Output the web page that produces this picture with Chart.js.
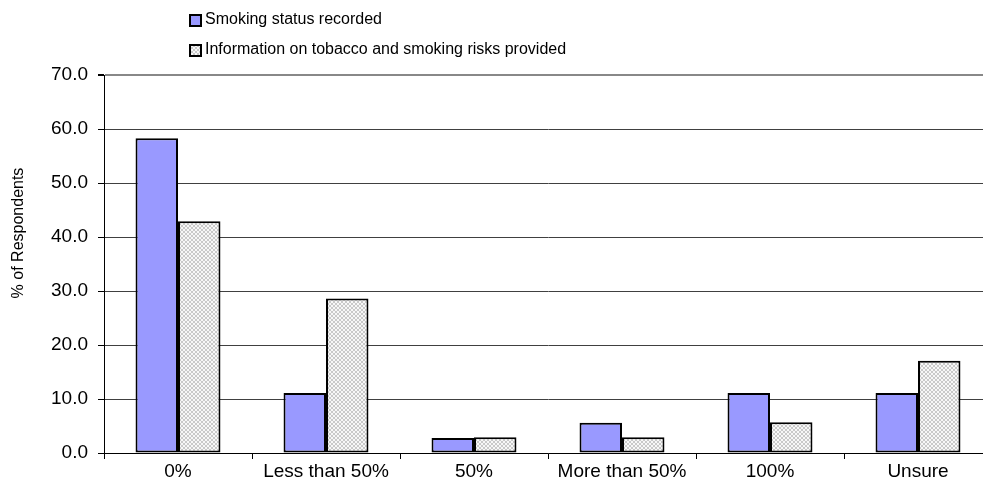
<!DOCTYPE html>
<html>
<head>
<meta charset="utf-8">
<script src="https://cdn.jsdelivr.net/npm/chart.js@4.4.0/dist/chart.umd.min.js"></script>
<style>
  html, body { margin: 0; padding: 0; background: #fff; overflow: hidden; }
  #wrap { width: 1000px; height: 494px; }
</style>
</head>
<body>
<div id="wrap"><canvas id="chart" width="1000" height="494"></canvas></div>
<script>
const categories = ['0%', 'Less than 50%', '50%', 'More than 50%', '100%', 'Unsure'];
const recorded = [58.3, 11.1, 2.8, 5.6, 11.1, 11.1];
const provided = [42.9, 28.6, 2.9, 2.9, 5.7, 17.1];
const seriesNames = ['Smoking status recorded', 'Information on tobacco and smoking risks provided'];
const yTicks = [0, 10, 20, 30, 40, 50, 60, 70];

const FONT = '"Liberation Sans", Arial, sans-serif';

// light crosshatch fill for the second series
function makeHatch() {
  const c = document.createElement('canvas');
  c.width = 4; c.height = 4;
  const g = c.getContext('2d');
  g.fillStyle = '#f7f7f7';
  g.fillRect(0, 0, 4, 4);
  g.fillStyle = '#c9c9c9';
  for (let x = 0; x < 4; x++) {
    for (let y = 0; y < 4; y++) {
      if (x === y || x + y === 3) g.fillRect(x, y, 1, 1);
    }
  }
  return g.createPattern(c, 'repeat');
}
const hatch = makeHatch();

const extras = {
  id: 'extras',
  afterDraw(chart) {
    const ctx = chart.ctx;
    ctx.save();
    // legend
    const fills = ['#9999ff', hatch];
    const rows = [20, 50];
    ctx.font = '16px ' + FONT;
    ctx.textBaseline = 'middle';
    ctx.textAlign = 'left';
    seriesNames.forEach((name, i) => {
      ctx.fillStyle = fills[i];
      ctx.fillRect(190, rows[i] - 5, 11, 11);
      ctx.strokeStyle = '#000';
      ctx.lineWidth = 2;
      ctx.strokeRect(190, rows[i] - 5, 11, 11);
      ctx.fillStyle = '#000';
      ctx.fillText(name, 205, rows[i]);
    });
    // y axis title
    ctx.translate(19, 233);
    ctx.rotate(-Math.PI / 2);
    ctx.textAlign = 'center';
    ctx.font = '16px ' + FONT;
    ctx.fillText('% of Respondents', 0, 0);
    ctx.restore();
  }
};

new Chart(document.getElementById('chart'), {
  type: 'bar',
  data: {
    labels: categories,
    datasets: [
      { label: seriesNames[0], data: recorded, backgroundColor: '#9999ff', borderColor: '#000', borderWidth: 2, borderSkipped: false },
      { label: seriesNames[1], data: provided, backgroundColor: hatch, borderColor: '#000', borderWidth: 2, borderSkipped: false }
    ]
  },
  options: {
    responsive: false,
    animation: false,
    layout: { padding: { top: 75, right: 8, left: 0, bottom: 0 } },
    datasets: { bar: { barPercentage: 1, categoryPercentage: 0.574 } },
    plugins: { legend: { display: false }, tooltip: { enabled: false } },
    scales: {
      x: {
        afterFit: (s) => { s.height = 41; },
        grid: { offset: true, drawOnChartArea: false, tickLength: 6, tickColor: '#000' },
        border: { display: true, color: '#000', width: 1 },
        ticks: { color: '#000', font: { family: FONT, size: 19 }, padding: 1, maxRotation: 0 }
      },
      y: {
        min: 0,
        max: 70,
        afterFit: (s) => { s.width = 104; },
        afterBuildTicks: (s) => { s.ticks = yTicks.map(v => ({ value: v })); },
        grid: {
          color: (c) => c.tick && c.tick.value === 70 ? '#888' : '#404040',
          lineWidth: (c) => c.tick && c.tick.value === 70 ? 2 : 1,
          tickLength: 6,
          tickColor: '#000'
        },
        border: { display: true, color: '#000', width: 1 },
        ticks: {
          color: '#000',
          font: { family: FONT, size: 19 },
          padding: 10,
          callback: (v) => Number(v).toFixed(1)
        }
      }
    }
  },
  plugins: [extras]
});
</script>
</body>
</html>
